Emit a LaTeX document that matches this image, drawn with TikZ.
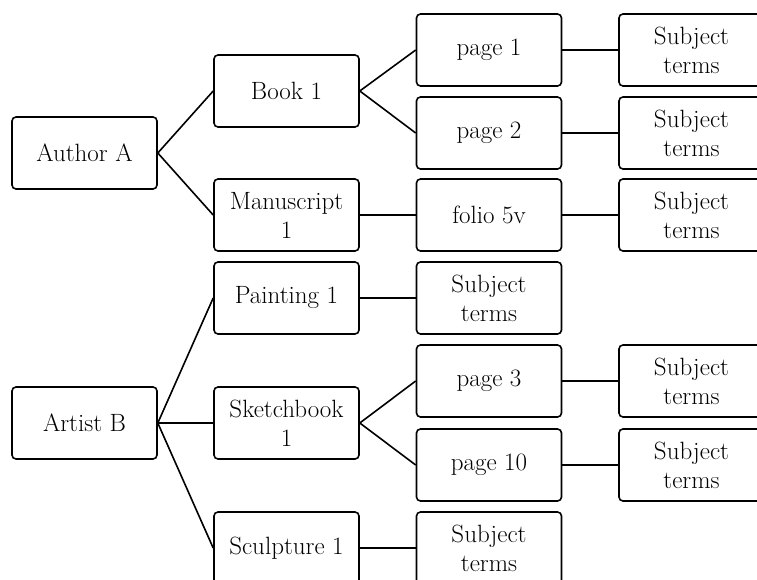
\documentclass[tikz,border=0pt]{standalone}
\usepackage{tikz}
\tikzstyle{item}=[draw,thick,line width=1.6pt,rounded corners=4pt,minimum width=145pt,minimum height=72pt,inner sep=2pt,align=center,font=\fontsize{25}{29}\selectfont]
\tikzstyle{link} = [draw,line width=1.6pt]

\begin{document}
\begin{tikzpicture}[x=1pt,y=-1pt]
	\useasboundingbox (0,0) rectangle (757,580);
	\clip (0,0) rectangle (757,580);

	% First we draw the boxes
	\foreach \pos/\name/\txt in {{(84.5,153)/auth/Author A}, {(84.5,423)/art/Artist B},
							{(286.5,91)/book/Book 1}, {(286.5,215)/ms/Manuscript\\1},
							{(286.5,298)/paint/Painting 1}, {(286.5,423)/sketch/Sketchbook\\1},
							{(286.5,548)/sculpt/Sculpture 1},
							{(489,50)/pa/page 1}, {(489,133)/pb/page 2}, {(489,215)/folio/folio 5v},
							{(489,298)/sp/Subject\\terms}, {(489,381)/pc/page 3}, {(489,465)/pd/page 10},
							{(489,548)/ss/Subject\\terms}}
	\node[item] (\name) at \pos {\txt};

	\foreach \pos/\name in {{(691.5,50)/sa}, {(691.5,133)/sb}, {(691.5,215)/sf},
							{(691.5,381)/sc}, {(691.5,465)/sd}}
	\node[item] (\name) at \pos {Subject\\terms};

	% Connect the boxes
	\foreach \source/\dest in {auth/book, auth/ms, art/paint, art/sketch, art/sculpt,
							book/pa, book/pb, ms/folio, sketch/pc, sketch/pd,
							paint/sp, sculpt/ss,
							pa/sa, pb/sb, folio/sf, pc/sc, pd/sd}
	\path[link] (\source.east) -- (\dest.west);

\end{tikzpicture}
\end{document}
